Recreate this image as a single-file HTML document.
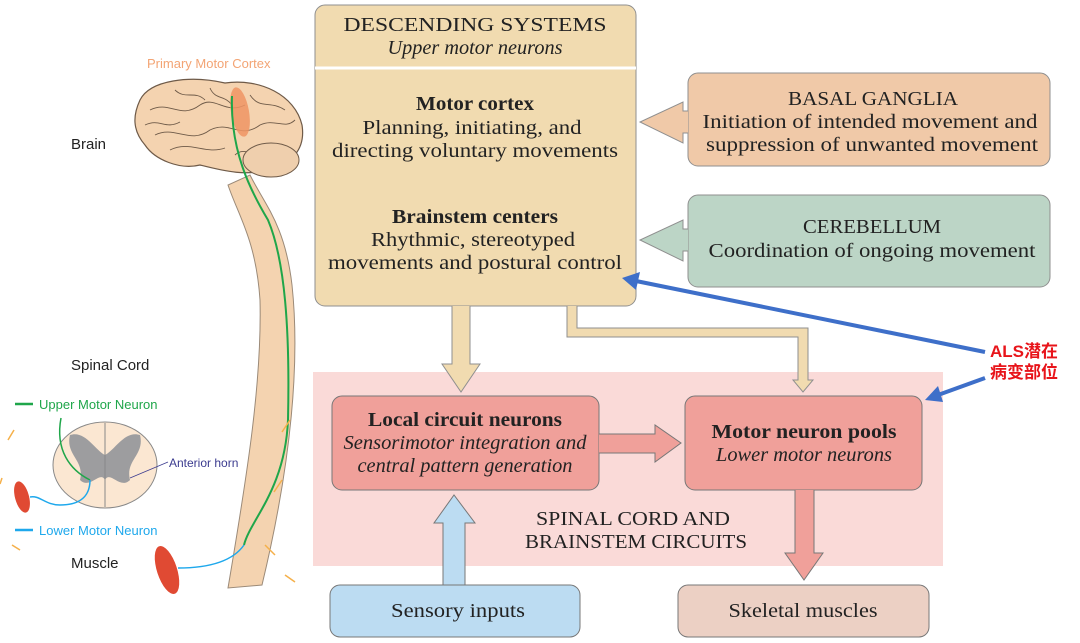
<!DOCTYPE html>
<html><head><meta charset="utf-8"><style>
html,body{margin:0;padding:0;background:#fff;}
svg{display:block}
.s{font-family:"Liberation Serif",serif;fill:#222;text-anchor:middle;font-size:20px}
.i{font-style:italic}
.b{font-weight:bold}
.a{font-family:"Liberation Sans",sans-serif}
</style></head><body>
<svg width="1080" height="643" viewBox="0 0 1080 643" xmlns="http://www.w3.org/2000/svg">
<!-- Left illustration -->
<text x="147" y="68" class="a" font-size="13" fill="#f3a474">Primary Motor Cortex</text>
<text x="71" y="149" class="a" font-size="15" fill="#222">Brain</text>
<text x="71" y="370" class="a" font-size="15" fill="#222">Spinal Cord</text>
<line x1="15" y1="404" x2="33" y2="404" stroke="#1fa64a" stroke-width="2.5"/>
<text x="39" y="409" class="a" font-size="13" fill="#1fa64a">Upper Motor Neuron</text>
<line x1="15" y1="530" x2="33" y2="530" stroke="#1ea8ec" stroke-width="2.5"/>
<text x="39" y="535" class="a" font-size="13" fill="#1ea8ec">Lower Motor Neuron</text>
<text x="169" y="467" class="a" font-size="12" fill="#3b3b8f">Anterior horn</text>
<text x="71" y="568" class="a" font-size="15" fill="#222">Muscle</text>
<!-- spinal cord -->
<path d="M250,175 C265,205 285,225 292,285 C300,360 292,460 262,585 L228,588 C248,470 262,380 260,300 C256,240 238,215 228,185 Z" fill="#f4d3b0" stroke="#9b8a78" stroke-width="1"/>
<!-- brain -->
<path d="M140,100 C150,80 190,75 225,83 C260,78 295,95 302,125 C306,150 290,165 270,168 C250,178 220,170 200,165 C180,170 155,160 145,145 C132,130 133,115 140,100 Z" fill="#f4d3b0" stroke="#6e5a48" stroke-width="1.2"/>
<g fill="none" stroke="#6e5a48" stroke-width="0.9">
<path d="M150,110 C170,100 180,120 200,105 C215,95 225,115 245,105"/>
<path d="M155,135 C175,125 190,145 210,130 C230,120 240,140 260,125 C275,118 285,130 295,120"/>
<path d="M175,90 C185,100 195,90 205,100"/><path d="M250,95 C260,110 270,100 285,110"/>
<path d="M170,150 C190,140 205,155 225,148"/><path d="M235,155 C245,145 255,160 268,150"/>
<path d="M145,125 C160,118 165,130 180,122"/><path d="M210,88 C215,100 225,95 232,105"/>
</g>
<ellipse cx="271" cy="160" rx="28" ry="17" fill="#efcfad" stroke="#6e5a48"/>
<ellipse cx="240" cy="112" rx="9" ry="25" fill="#ef9464" opacity="0.85" transform="rotate(-10 240 112)"/>
<path d="M232,96 C230,150 250,190 268,220 C285,260 290,330 288,420 C285,490 250,520 244,545" fill="none" stroke="#1fa64a" stroke-width="2"/>
<!-- cross section -->
<ellipse cx="105" cy="465" rx="52" ry="43" fill="#fbe7d2" stroke="#888"/>
<path d="M70,435 C85,430 95,450 105,455 C115,450 125,430 140,435 C145,455 125,460 130,480 C120,490 110,470 105,480 C100,470 90,490 80,480 C85,460 65,455 70,435 Z" fill="#9d9d9f"/>
<line x1="105" y1="423" x2="105" y2="507" stroke="#888"/>
<line x1="130" y1="478" x2="168" y2="462" stroke="#3b3b8f" stroke-width="0.8"/>
<path d="M61,418 C55,450 70,470 90,480" fill="none" stroke="#1fa64a" stroke-width="1.5"/>
<path d="M90,480 C90,500 75,505 60,505 C45,505 40,495 30,497" fill="none" stroke="#1ea8ec" stroke-width="1.5"/>
<ellipse cx="22" cy="497" rx="7" ry="16" fill="#e04a33" transform="rotate(-15 22 497)"/>
<ellipse cx="167" cy="570" rx="10" ry="25" fill="#e04a33" transform="rotate(-18 167 570)"/>
<path d="M178,568 C200,568 230,565 244,545" fill="none" stroke="#1ea8ec" stroke-width="1.5"/>
<g stroke="#f5b04a" stroke-width="1.5"><line x1="14" y1="430" x2="8" y2="440"/><line x1="2" y1="478" x2="0" y2="484"/><line x1="12" y1="545" x2="20" y2="550"/><line x1="290" y1="420" x2="282" y2="432"/><line x1="282" y1="480" x2="274" y2="492"/><line x1="265" y1="545" x2="275" y2="555"/><line x1="285" y1="575" x2="295" y2="582"/></g>

<!-- Pink region -->
<rect x="313" y="372" width="630" height="194" fill="#fadad8"/>
<!-- Descending box -->
<rect x="315" y="5" width="321" height="301" rx="10" fill="#f1dbb0" stroke="#8f8f8f"/>
<line x1="315" y1="68" x2="636" y2="68" stroke="#fff" stroke-width="3"/>
<text x="475" y="31" class="s" font-size="21" textLength="263" lengthAdjust="spacingAndGlyphs">DESCENDING SYSTEMS</text>
<text x="475" y="54" class="s i" textLength="175" lengthAdjust="spacingAndGlyphs">Upper motor neurons</text>
<text x="475" y="110" class="s b" textLength="118" lengthAdjust="spacingAndGlyphs">Motor cortex</text>
<text x="472" y="134" class="s" textLength="219" lengthAdjust="spacingAndGlyphs">Planning, initiating, and</text>
<text x="475" y="157" class="s" textLength="286" lengthAdjust="spacingAndGlyphs">directing voluntary movements</text>
<text x="475" y="223" class="s b" textLength="166" lengthAdjust="spacingAndGlyphs">Brainstem centers</text>
<text x="473" y="246" class="s" textLength="204" lengthAdjust="spacingAndGlyphs">Rhythmic, stereotyped</text>
<text x="475" y="269" class="s" textLength="294" lengthAdjust="spacingAndGlyphs">movements and postural control</text>

<!-- Basal ganglia -->
<rect x="688" y="73" width="362" height="93" rx="10" fill="#f0c9a8" stroke="#8f8f8f"/>
<text x="873" y="105" class="s" textLength="170" lengthAdjust="spacingAndGlyphs">BASAL GANGLIA</text>
<text x="870" y="128" class="s" textLength="335" lengthAdjust="spacingAndGlyphs">Initiation of intended movement and</text>
<text x="872" y="151" class="s" textLength="332" lengthAdjust="spacingAndGlyphs">suppression of unwanted movement</text>
<path d="M688,111 L683,111 L683,102 L640,122 L683,143 L683,133 L688,133" fill="#f0c9a8" stroke="#8f8f8f"/>
<!-- Cerebellum -->
<rect x="688" y="195" width="362" height="92" rx="10" fill="#bcd5c6" stroke="#8f8f8f"/>
<text x="872" y="233" class="s" textLength="138" lengthAdjust="spacingAndGlyphs">CEREBELLUM</text>
<text x="872" y="257" class="s" textLength="327" lengthAdjust="spacingAndGlyphs">Coordination of ongoing movement</text>
<path d="M688,229 L683,229 L683,220 L640,240 L683,261 L683,251 L688,251" fill="#bcd5c6" stroke="#8f8f8f"/>

<!-- down arrows from descending -->
<path d="M452,306 L452,364 L442,364 L461,392 L480,364 L470,364 L470,306" fill="#f1dbb0" stroke="#8f8f8f"/>
<path d="M567,306 L567,337 L798,337 L798,380 L793,380 L803,392 L813,380 L808,380 L808,328 L577,328 L577,306" fill="#f1dbb0" stroke="#8f8f8f"/>

<!-- Local circuit -->
<rect x="332" y="396" width="267" height="94" rx="10" fill="#f0a09a" stroke="#777"/>
<text x="465" y="426" class="s b" textLength="194" lengthAdjust="spacingAndGlyphs">Local circuit neurons</text>
<text x="465" y="449" class="s i" textLength="243" lengthAdjust="spacingAndGlyphs">Sensorimotor integration and</text>
<text x="465" y="472" class="s i" textLength="215" lengthAdjust="spacingAndGlyphs">central pattern generation</text>
<path d="M599,434 L655,434 L655,425 L681,443 L655,462 L655,453 L599,453" fill="#f0a09a" stroke="#777"/>
<!-- Motor pools -->
<rect x="685" y="396" width="237" height="94" rx="10" fill="#f0a09a" stroke="#777"/>
<text x="804" y="438" class="s b" textLength="185" lengthAdjust="spacingAndGlyphs">Motor neuron pools</text>
<text x="804" y="461" class="s i" textLength="176" lengthAdjust="spacingAndGlyphs">Lower motor neurons</text>
<path d="M795,490 L795,553 L785,553 L804,580 L823,553 L814,553 L814,490" fill="#f0a09a" stroke="#777"/>

<text x="633" y="525" class="s" font-size="19" textLength="194" lengthAdjust="spacingAndGlyphs">SPINAL CORD AND</text>
<text x="636" y="548" class="s" font-size="19" textLength="222" lengthAdjust="spacingAndGlyphs">BRAINSTEM CIRCUITS</text>

<!-- Sensory inputs -->
<path d="M443,585 L443,523 L434,523 L454,495 L475,523 L465,523 L465,585" fill="#bcdcf2" stroke="#777"/>
<rect x="330" y="585" width="250" height="52" rx="10" fill="#bcdcf2" stroke="#777"/>
<text x="458" y="617" class="s" textLength="134" lengthAdjust="spacingAndGlyphs">Sensory inputs</text>
<rect x="678" y="585" width="251" height="52" rx="10" fill="#ecd0c4" stroke="#777"/>
<text x="803" y="617" class="s" textLength="149" lengthAdjust="spacingAndGlyphs">Skeletal muscles</text>

<!-- ALS arrows -->
<line x1="985" y1="352" x2="636" y2="281" stroke="#3e6fc9" stroke-width="4"/>
<path d="M622,278 L640,272 L636,290 Z" fill="#3e6fc9"/>
<line x1="985" y1="378" x2="938" y2="395" stroke="#3e6fc9" stroke-width="4"/>
<path d="M925,400 L938,386 L943,402 Z" fill="#3e6fc9"/>
<text x="990" y="357" font-family="'Liberation Sans','Noto Sans CJK SC',sans-serif" font-size="17" font-weight="bold" fill="#e8141a">ALS潜在</text>
<text x="990" y="378" font-family="'Liberation Sans','Noto Sans CJK SC',sans-serif" font-size="17" font-weight="bold" fill="#e8141a">病变部位</text>
</svg>
</body></html>
